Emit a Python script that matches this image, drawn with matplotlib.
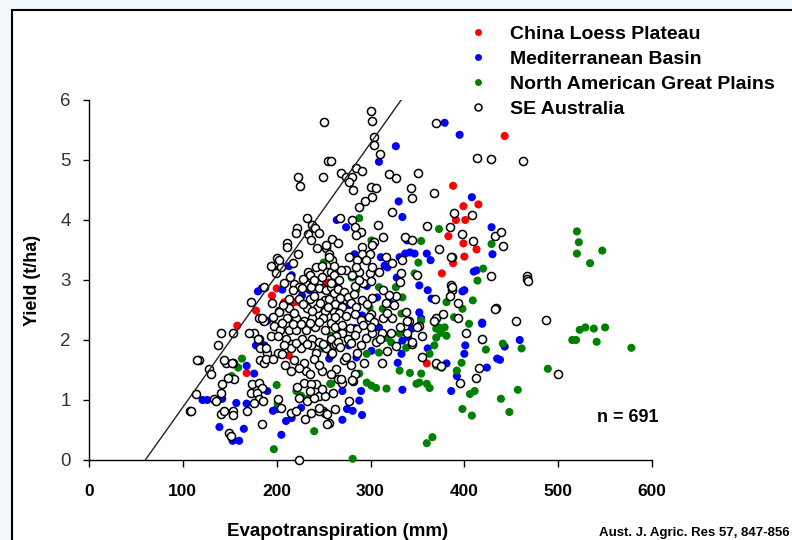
import numpy as np
import matplotlib.pyplot as plt
from matplotlib.patches import Rectangle
from matplotlib.lines import Line2D

plt.rcParams['font.family'] = ['Liberation Sans', 'DejaVu Sans']

# (ET mm, yield t/ha)
china = [(443, 5.40), (388, 4.57), (399, 4.23), (415, 4.26), (391, 4.00), (401, 4.00),
         (383, 3.73), (399, 3.61), (413, 3.51), (388, 3.28), (400, 3.39), (376, 3.11),
         (468, 3.06), (256, 2.96), (360, 1.61), (200, 2.86), (195, 2.74), (208, 2.63),
         (219, 2.63), (178, 2.49), (158, 2.24), (213, 1.74), (168, 1.45), (254, 2.94),
         (224, 2.63)]

medit = [(379, 5.62), (395, 5.42), (327, 5.23), (309, 4.97), (330, 4.31), (334, 4.05),
         (274, 3.88), (408, 4.38), (429, 3.88), (430, 3.43), (339, 3.66), (360, 3.44),
         (364, 3.33), (337, 3.44), (342, 3.46), (347, 3.44), (331, 3.38), (311, 3.38),
         (315, 3.24), (410, 3.14), (328, 3.04), (254, 3.56), (283, 3.43), (318, 3.21),
         (352, 2.91), (361, 2.83), (365, 2.69), (400, 2.83), (413, 3.16), (352, 2.46),
         (354, 2.36), (419, 2.29), (307, 2.71), (291, 2.41), (307, 2.22), (265, 2.88),
         (277, 2.58), (277, 1.91), (285, 1.71), (270, 1.15), (290, 1.15), (288, 0.99),
         (275, 0.85), (281, 0.82), (270, 0.67), (291, 0.75), (301, 1.82), (309, 2.21),
         (316, 2.04), (334, 1.99), (333, 1.77), (329, 1.62), (334, 1.17), (344, 2.19),
         (361, 1.86), (386, 1.15), (392, 1.40), (401, 1.91), (400, 1.77), (419, 2.27),
         (438, 1.67), (381, 1.61), (398, 2.81), (424, 1.54), (435, 1.69), (459, 2.00),
         (443, 1.89), (180, 2.81), (206, 2.84), (235, 2.83), (227, 2.74), (190, 2.32),
         (178, 1.91), (187, 1.91), (176, 1.44), (190, 1.15), (121, 1.00), (126, 1.00),
         (142, 1.02), (157, 0.95), (168, 0.94), (139, 0.55), (165, 0.52), (153, 0.32),
         (160, 0.32), (205, 0.42), (196, 0.82), (210, 0.65), (216, 0.70), (226, 0.87),
         (256, 1.69), (168, 1.57), (200, 0.85), (213, 3.23), (216, 3.08), (184, 2.86),
         (264, 4.00), (186, 2.30), (296, 2.90), (322, 2.60), (284, 2.20), (340, 2.05)]

great_plains = [(520, 3.81), (522, 3.63), (520, 3.44), (547, 3.49), (534, 3.28), (523, 2.17),
                (529, 2.21), (538, 2.19), (550, 2.21), (515, 2.00), (519, 2.00), (541, 1.97),
                (578, 1.87), (441, 1.94), (461, 1.86), (489, 1.52), (457, 1.17), (439, 1.02),
                (448, 0.80), (409, 2.66), (381, 2.63), (333, 2.44), (354, 2.32), (389, 2.38),
                (405, 2.27), (370, 2.19), (375, 2.12), (379, 2.21), (381, 2.07), (370, 2.04),
                (423, 1.84), (317, 2.04), (322, 1.96), (309, 1.79), (338, 1.87), (368, 1.91),
                (363, 1.77), (397, 1.62), (370, 1.57), (376, 1.54), (392, 1.49), (331, 1.49),
                (342, 1.45), (354, 1.44), (352, 1.29), (360, 1.27), (363, 1.20), (349, 1.27),
                (296, 1.29), (301, 1.24), (306, 1.20), (317, 1.19), (406, 1.10), (411, 1.15),
                (398, 0.85), (408, 0.74), (366, 0.38), (360, 0.28), (281, 0.02), (258, 1.27),
                (288, 1.44), (309, 2.88), (327, 2.88), (334, 2.71), (285, 2.83), (331, 2.11),
                (296, 1.77), (288, 4.03), (373, 3.85), (354, 3.65), (301, 3.66), (351, 3.29),
                (347, 3.11), (420, 3.19), (414, 2.99), (429, 3.60), (398, 2.52), (313, 2.52),
                (299, 2.54), (280, 3.04), (373, 2.21), (250, 3.29), (163, 1.69), (159, 1.54),
                (152, 1.40), (200, 1.25), (221, 1.15), (226, 1.07), (233, 1.02), (257, 1.27),
                (249, 1.86), (258, 2.07), (201, 0.94), (197, 0.18), (240, 0.48), (256, 1.94)]

se_aus = [(250, 5.64), (223, 4.72), (225, 4.57), (249, 4.72), (255, 4.98), (232, 4.03),
          (222, 3.86), (221, 3.78), (238, 3.91), (241, 3.86), (233, 3.76), (237, 3.66),
          (245, 3.78), (211, 3.61), (211, 3.55), (223, 3.43), (200, 3.36), (195, 3.23),
          (201, 3.28), (205, 3.21), (199, 3.11), (217, 3.28), (243, 3.53), (253, 3.53),
          (242, 3.21), (233, 3.13), (254, 3.13), (259, 3.68), (265, 3.61), (256, 3.44),
          (259, 3.33), (235, 3.08), (219, 2.94), (224, 2.88), (231, 2.94), (245, 2.94),
          (248, 2.86), (258, 3.13), (261, 3.08), (194, 3.23), (203, 3.33),
          (301, 5.82), (302, 5.65), (370, 5.62), (304, 5.38), (304, 5.25), (310, 5.10),
          (258, 4.98), (413, 5.03), (428, 5.02), (463, 4.98), (269, 4.78), (274, 4.72),
          (280, 4.72), (277, 4.63), (285, 4.87), (291, 4.82), (281, 4.50), (320, 4.77),
          (327, 4.70), (351, 4.78), (301, 4.55), (306, 4.53), (302, 4.38), (294, 4.31),
          (288, 4.21), (343, 4.53), (344, 4.36), (368, 4.45), (323, 4.13), (308, 3.91),
          (267, 4.03), (280, 4.00), (283, 3.88), (290, 3.80), (285, 3.75), (360, 3.90),
          (385, 3.88), (389, 4.11), (408, 4.08), (398, 3.76), (409, 3.65), (433, 3.73),
          (439, 3.80), (441, 3.56), (387, 3.39), (373, 3.51), (313, 3.71), (304, 3.63),
          (302, 3.58), (291, 3.55), (253, 3.58), (337, 3.71), (256, 3.38), (248, 3.24),
          (317, 3.39), (323, 3.28), (334, 3.33), (291, 3.44), (277, 3.38), (286, 3.33),
          (333, 3.11), (274, 3.16), (288, 3.13), (299, 3.11), (350, 3.08), (428, 3.06),
          (467, 3.06),
          (434, 2.54), (386, 2.91), (387, 2.83), (369, 2.68), (338, 2.46), (327, 2.74),
          (331, 2.96), (344, 3.66), (386, 3.39), (309, 3.13), (269, 3.16), (261, 3.24),
          (299, 3.44), (295, 3.33), (302, 3.21), (285, 3.21), (280, 3.08), (313, 2.36),
          (323, 2.36), (341, 2.32), (370, 2.36), (393, 2.36),
          (259, 2.29), (270, 2.11), (263, 2.07), (261, 1.91), (258, 1.77), (263, 1.52),
          (265, 1.35), (270, 1.29), (272, 1.66), (281, 1.32), (283, 1.44), (286, 1.79),
          (290, 1.91), (293, 1.61), (312, 1.61), (295, 2.04), (302, 2.12), (312, 2.11),
          (322, 2.11), (331, 2.21), (339, 2.11), (344, 1.94), (352, 2.24), (355, 2.07),
          (370, 1.61), (375, 1.57), (402, 2.12), (419, 2.02), (416, 1.54), (412, 1.37),
          (395, 1.29), (277, 0.99), (256, 0.62),
          (387, 2.88), (385, 2.74), (393, 2.61), (377, 2.44), (368, 2.31), (433, 2.52),
          (455, 2.31), (487, 2.34), (355, 1.71), (254, 0.60), (249, 0.82), (251, 0.79),
          (245, 1.07), (269, 1.35), (280, 1.34), (301, 2.44), (339, 2.32), (350, 2.21),
          (344, 1.96), (467, 3.01), (468, 2.99), (500, 1.44),
          (187, 2.88), (217, 2.83), (227, 2.86), (237, 2.88), (245, 2.86), (253, 2.83),
          (258, 2.88), (213, 2.69), (224, 2.69), (235, 2.69), (240, 2.74), (251, 2.66),
          (256, 2.69), (261, 2.79), (203, 2.49), (213, 2.53), (232, 2.54), (243, 2.54),
          (251, 2.49), (261, 2.46), (267, 2.58), (181, 2.36), (187, 2.32), (211, 2.36),
          (221, 2.37), (229, 2.32), (238, 2.37), (249, 2.36), (258, 2.29), (197, 2.24),
          (204, 2.16), (213, 2.17), (221, 2.16), (231, 2.17), (241, 2.21), (251, 2.17),
          (262, 2.21), (141, 2.11), (153, 2.12), (176, 2.11), (181, 2.02), (194, 2.07),
          (201, 2.07), (210, 2.02), (216, 1.94), (227, 2.01), (238, 2.02), (245, 1.97),
          (258, 2.01), (263, 1.94), (137, 1.91), (182, 1.87), (190, 1.79), (201, 1.79),
          (206, 1.77), (215, 1.87), (226, 1.87), (237, 1.91), (242, 1.79), (253, 1.86),
          (259, 1.79), (117, 1.66), (153, 1.61), (146, 1.62), (182, 1.66), (187, 1.61),
          (218, 1.66), (229, 1.62), (240, 1.69), (128, 1.52), (130, 1.44), (215, 1.49),
          (231, 1.49), (236, 1.44), (248, 1.49), (258, 1.44), (142, 1.27), (155, 1.35),
          (148, 1.37), (174, 1.27), (181, 1.29), (184, 1.20), (229, 1.29), (242, 1.27),
          (114, 1.10), (133, 1.02), (141, 1.12), (135, 0.99), (173, 1.12), (179, 1.12),
          (181, 1.02), (176, 0.95), (185, 0.99), (224, 1.04), (232, 0.99), (240, 1.04),
          (251, 1.07), (108, 0.82), (141, 0.77), (153, 0.82), (168, 0.82), (215, 0.79),
          (221, 0.82), (237, 0.79), (245, 0.82), (254, 0.77),
          (115, 1.66), (109, 0.82), (144, 1.67), (152, 1.61), (144, 0.82), (153, 0.75),
          (149, 0.45), (151, 0.40), (173, 2.63), (184, 2.36), (195, 2.61), (203, 2.46),
          (171, 2.11), (180, 2.02), (189, 1.87), (189, 1.69), (184, 0.60), (201, 1.02),
          (205, 0.87), (224, 0.00), (245, 0.87), (237, 1.27),
          (258, 2.95), (265, 2.85), (272, 2.80), (268, 2.70), (276, 2.72), (282, 2.76),
          (262, 2.60), (270, 2.55), (279, 2.62), (285, 2.55), (291, 2.66), (296, 2.60),
          (302, 2.70), (266, 2.45), (274, 2.40), (283, 2.43), (290, 2.33), (298, 2.38),
          (304, 2.30), (262, 2.38), (270, 2.25), (278, 2.20), (286, 2.18), (292, 2.25),
          (300, 2.22), (276, 2.02), (283, 2.08), (279, 1.95), (265, 1.97), (283, 2.90),
          (292, 2.95), (300, 2.98), (288, 3.00), (316, 2.62), (320, 2.75), (313, 2.83),
          (325, 2.58), (318, 2.45),
          (208, 2.95), (214, 3.05), (228, 3.02), (240, 3.00), (248, 3.05), (266, 3.00),
          (207, 2.58), (219, 2.45), (228, 2.60), (238, 2.48), (246, 2.62), (255, 2.55),
          (196, 2.38), (206, 2.28), (217, 2.26), (226, 2.27), (236, 2.28), (245, 2.30),
          (208, 1.92), (221, 1.95), (232, 1.94), (249, 1.94), (196, 1.68), (209, 1.58),
          (224, 1.54), (245, 1.58), (222, 1.22), (236, 1.15), (248, 1.18), (260, 1.12),
          (230, 0.68), (262, 0.85), (274, 1.72), (268, 1.88), (279, 1.58), (306, 1.96),
          (318, 1.82), (327, 1.90), (310, 2.02)]

labels = ['China Loess Plateau', 'Mediterranean Basin',
          'North American Great Plains', 'SE Australia']

# boundary line: 22 kg/ha/mm above 60 mm soil evaporation
line_et = [60, 332.7]
line_y = [0, 6]

fig = plt.figure(figsize=(7.92, 5.40), dpi=100)
fig.patch.set_facecolor('#f4f9fd')
fig.patches.append(Rectangle((12/792, -0.1), 1.2, 0.1 + 1 - 10/540,
                             transform=fig.transFigure, facecolor='white',
                             edgecolor='black', lw=1.5, zorder=-10))

ax = fig.add_axes([89/792, 1 - 460/540, (652 - 89)/792, 360/540])
ax.set_facecolor('none')

def xy(pts):
    a = np.array(pts, dtype=float)
    return a[:, 0], a[:, 1]

for pts, col in [(china, 'red'), (medit, 'blue'), (great_plains, 'green')]:
    x, y = xy(pts)
    ax.scatter(x, y, s=34, color=col, edgecolors='none', clip_on=False, zorder=3)
x, y = xy(se_aus)
ax.scatter(x, y, s=34, facecolors='white', edgecolors='black', linewidths=1.1,
           clip_on=False, zorder=4)

ax.plot(line_et, line_y, color='#222222', lw=1.0, zorder=5)

ax.set_xlim(0, 600)
ax.set_ylim(0, 6)
ax.set_xticks(range(0, 601, 100))
ax.set_yticks(range(0, 7))
for s in ['top', 'right']:
    ax.spines[s].set_visible(False)
for s in ['left', 'bottom']:
    ax.spines[s].set_linewidth(1.0)
ax.tick_params(axis='y', direction='out', length=4, width=1, pad=9,
               labelsize=13.5, labelcolor='#333333')
ax.tick_params(axis='x', direction='out', length=5, width=1, pad=12, labelsize=12.5)
for t in ax.get_xticklabels():
    t.set_fontweight('bold')

ax.set_ylabel('Yield (t/ha)', fontsize=13, fontweight='bold', labelpad=14)
fig.text(338/792, 1 - 532/540, 'Evapotranspiration (mm)', fontsize=13.5,
         fontweight='bold', ha='center', va='center')
fig.text(790/792, 1 - 533/540, 'Aust. J. Agric. Res 57, 847-856', fontsize=9.5,
         fontweight='bold', ha='right', va='center')
ax.text(628/792, 1 - 418/540, 'n = 691', transform=fig.transFigure, fontsize=13,
        fontweight='bold', ha='center', va='center')

handles = [Line2D([], [], ls='none', marker='o', ms=5, mfc=c, mec='none')
           for c in ['red', 'blue', 'green']]
handles.append(Line2D([], [], ls='none', marker='o', ms=5, mfc='white', mec='black', mew=1.1))
fig.legend(handles, labels, loc='upper left', bbox_to_anchor=(469/792, 1 - 25/540),
           frameon=False, prop={'weight': 'bold', 'size': 14}, handlelength=0.9,
           handletextpad=1.2, labelspacing=0.38, borderpad=0, borderaxespad=0)

fig.savefig('out.png', dpi=100)
